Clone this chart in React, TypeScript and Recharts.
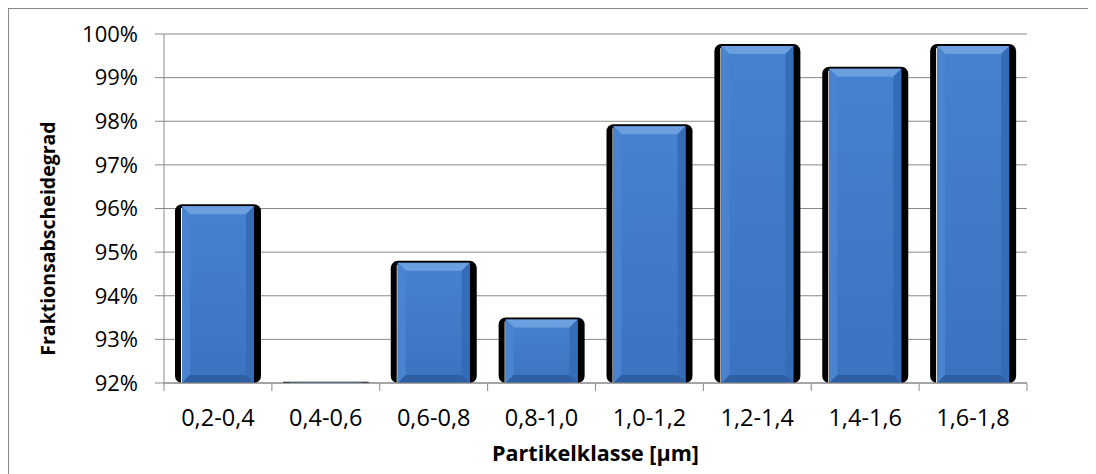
import { Bar, BarChart, CartesianGrid, XAxis, YAxis } from "recharts";

// Particle class fractional separation efficiency, in percent.
const classes = ["0,2-0,4", "0,4-0,6", "0,6-0,8", "0,8-1,0", "1,0-1,2", "1,2-1,4", "1,4-1,6", "1,6-1,8"];
const efficiency = [96.1, 92.03, 94.8, 93.5, 97.93, 99.77, 99.25, 99.77];
const yTicks = [92, 93, 94, 95, 96, 97, 98, 99, 100];

const data = classes.map((c, i) => ({ cls: c, value: efficiency[i] }));

const FONT = "'Open Sans', sans-serif";
const AXIS = "#888888";
const W = 1090;
const H = 470;
const M = { top: 25, right: 72, left: 0, bottom: 0 };
const Y_W = 155;
const PLOT_W = W - M.right - Y_W;
const BAND = PLOT_W / classes.length;

// Excel-style bevelled bar with a dark backing shadow
function BevelBar(props: any) {
  const { x, y, width, height } = props;
  if (height <= 0) return null;
  const r = Math.min(7, height / 2);
  const inset = 7;
  const ix = x + inset;
  const iw = width - inset * 2;
  const iy = y + Math.min(2, height / 2);
  const ih = Math.max(0, y + height - iy);
  const bev = Math.min(8, ih / 2, iw / 2);
  return (
    <g>
      <rect x={x} y={y} width={width} height={height} rx={r} ry={r} fill="#000" />
      <line x1={ix - 0.5} y1={iy + 2} x2={ix - 0.5} y2={y + height} stroke="#fff" strokeWidth={1} />
      <rect x={ix} y={iy} width={iw} height={ih} fill="url(#barBody)" />
      {ih > 4 && (
        <>
          <polygon points={`${ix},${iy} ${ix + iw},${iy} ${ix + iw - bev},${iy + bev} ${ix + bev},${iy + bev}`} fill="#6b9fe0" />
          <polygon points={`${ix},${iy} ${ix + bev},${iy + bev} ${ix + bev},${iy + ih - bev} ${ix},${iy + ih}`} fill="#4a83cf" />
          <polygon points={`${ix + iw},${iy} ${ix + iw - bev},${iy + bev} ${ix + iw - bev},${iy + ih - bev} ${ix + iw},${iy + ih}`} fill="#356cb6" />
          <polygon points={`${ix},${iy + ih} ${ix + bev},${iy + ih - bev} ${ix + iw - bev},${iy + ih - bev} ${ix + iw},${iy + ih}`} fill="#2e5fa3" />
        </>
      )}
    </g>
  );
}

function XTick(props: any) {
  const { x, y, payload, index } = props;
  const top = y - 8;
  return (
    <g>
      <line x1={x - BAND / 2} y1={top} x2={x - BAND / 2} y2={top + 8} stroke={AXIS} />
      {index === classes.length - 1 && <line x1={x + BAND / 2} y1={top} x2={x + BAND / 2} y2={top + 8} stroke={AXIS} />}
      <text x={x} y={y + 35} textAnchor="middle" fill="#000" fontSize={23.5} fontFamily={FONT}>
        {payload.value}
      </text>
    </g>
  );
}

function YLabel(props: any) {
  const { viewBox } = props;
  const cx = viewBox.x + 38;
  const cy = viewBox.y + viewBox.height / 2 + 30;
  return (
    <text
      x={cx}
      y={cy}
      transform={`rotate(-90 ${cx} ${cy})`}
      textAnchor="middle"
      dominantBaseline="central"
      fill="#000"
      fontSize={19.5}
      fontWeight={700}
      fontFamily={FONT}
    >
      Fraktionsabscheidegrad
    </text>
  );
}

export default function App() {
  return (
    <div style={{ width: W, height: H, border: `1px solid ${AXIS}`, background: "#fff" }}>
      <BarChart width={W} height={H} data={data} margin={M}>
        <defs>
          <linearGradient id="barBody" x1="0" y1="0" x2="0" y2="1">
            <stop offset="0%" stopColor="#4682d0" />
            <stop offset="100%" stopColor="#3b73c0" />
          </linearGradient>
        </defs>
        <CartesianGrid vertical={false} stroke={AXIS} strokeWidth={1} />
        <XAxis
          dataKey="cls"
          stroke={AXIS}
          tickLine={false}
          tick={<XTick />}
          height={96}
          interval={0}
          label={{
            value: "Partikelklasse [µm]",
            position: "insideBottom",
            offset: 18,
            fill: "#000",
            fontSize: 21.5,
            fontWeight: 700,
            fontFamily: FONT,
          }}
        />
        <YAxis
          width={Y_W}
          domain={[92, 100]}
          ticks={yTicks}
          interval={0}
          allowDataOverflow
          stroke={AXIS}
          tickSize={9}
          tickMargin={17}
          tickFormatter={(v) => `${v}%`}
          tick={{ fill: "#000", fontSize: 22, fontFamily: FONT }}
          label={<YLabel />}
        />
        <Bar dataKey="value" barSize={86} shape={<BevelBar />} isAnimationActive={false} />
      </BarChart>
    </div>
  );
}
